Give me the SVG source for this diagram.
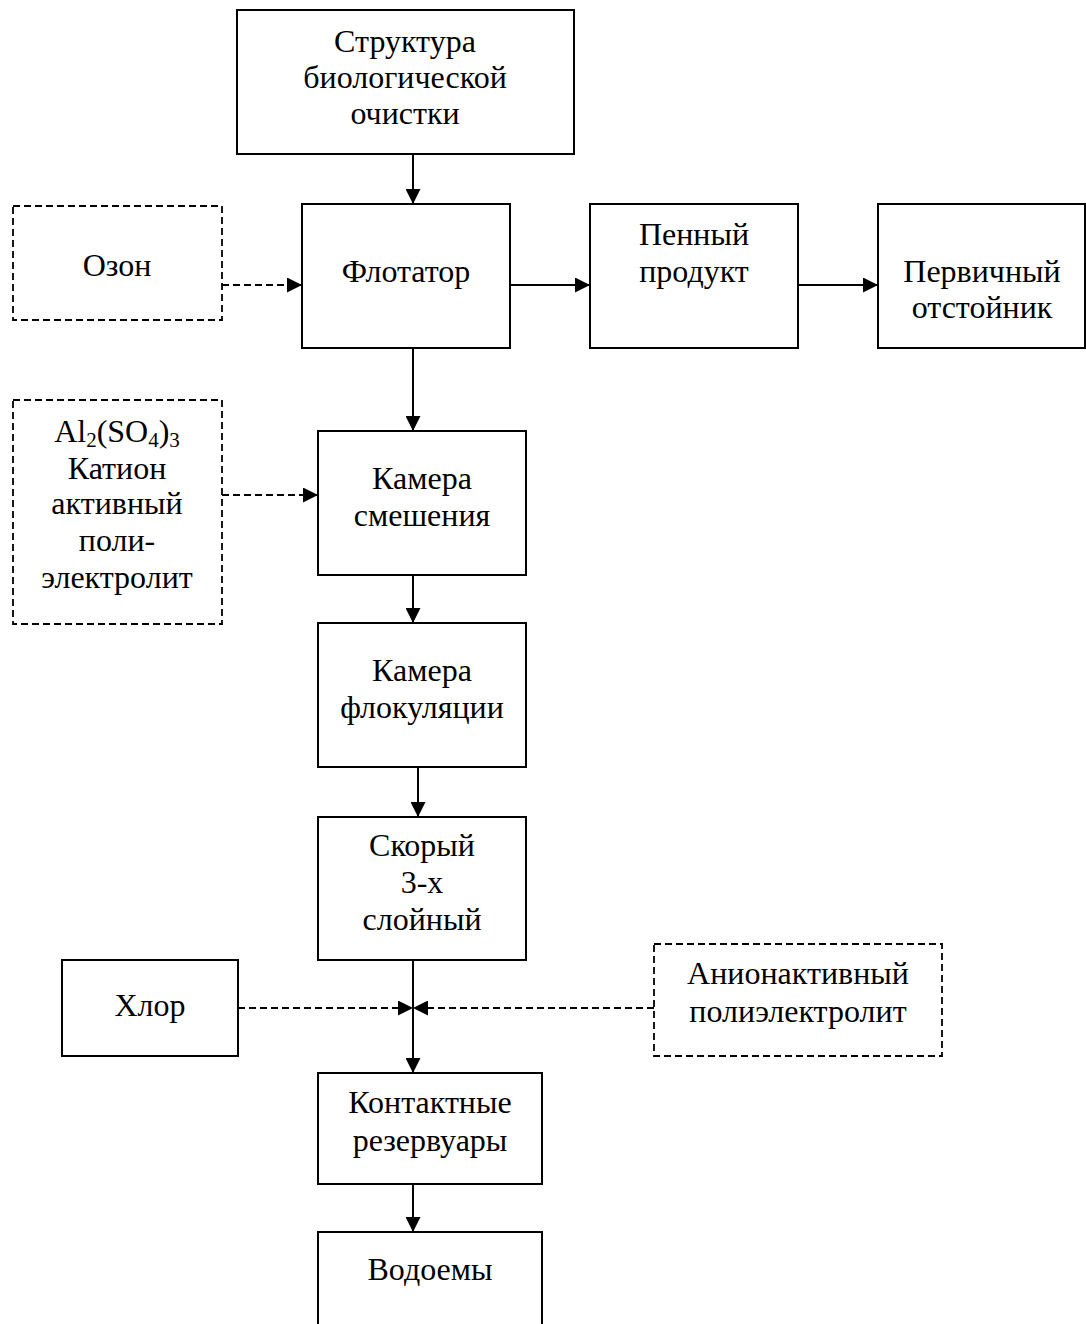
<svg xmlns="http://www.w3.org/2000/svg" width="1086" height="1324" viewBox="0 0 1086 1324">
<style>
.b{fill:#fff;stroke:#000;stroke-width:2}
.d{fill:#fff;stroke:#000;stroke-width:1.8;stroke-dasharray:7 4}
.c{fill:none;stroke:#000;stroke-width:2}
.cd{fill:none;stroke:#000;stroke-width:1.8;stroke-dasharray:7 4}
text{font-family:"Liberation Serif","Times New Roman",serif;font-size:32px;fill:#000;text-anchor:middle}
.s{font-size:21px}
</style>
<defs>
<marker id="ah" markerUnits="userSpaceOnUse" markerWidth="15" markerHeight="15" refX="15" refY="7.5" orient="auto">
<path d="M0,0 L15,7.5 L0,15 z" fill="#000"/>
</marker>
</defs>
<rect width="1086" height="1324" fill="#fff"/>
<g id="connectors">
<line class="c" x1="413" y1="154" x2="413" y2="204" marker-end="url(#ah)"/>
<line class="cd" x1="222" y1="285" x2="302" y2="285" marker-end="url(#ah)"/>
<line class="c" x1="510" y1="285" x2="590" y2="285" marker-end="url(#ah)"/>
<line class="c" x1="798" y1="285" x2="878" y2="285" marker-end="url(#ah)"/>
<line class="c" x1="413" y1="348" x2="413" y2="431" marker-end="url(#ah)"/>
<line class="cd" x1="222" y1="495" x2="318" y2="495" marker-end="url(#ah)"/>
<line class="c" x1="413" y1="575" x2="413" y2="623" marker-end="url(#ah)"/>
<line class="c" x1="418" y1="767" x2="418" y2="817" marker-end="url(#ah)"/>
<line class="c" x1="413" y1="960" x2="413" y2="1073" marker-end="url(#ah)"/>
<line class="cd" x1="238" y1="1008" x2="413" y2="1008" marker-end="url(#ah)"/>
<line class="cd" x1="654" y1="1008" x2="413" y2="1008" marker-end="url(#ah)"/>
<line class="c" x1="413" y1="1184" x2="413" y2="1232" marker-end="url(#ah)"/>
</g>
<g id="n-struct">
<rect class="b" x="237" y="10" width="337" height="144"/>
<text x="405" y="52">Структура</text>
<text x="405" y="88">биологической</text>
<text x="405" y="124">очистки</text>
</g>
<g id="n-ozon">
<rect class="d" x="13" y="206" width="209" height="114"/>
<text x="117" y="276">Озон</text>
</g>
<g id="n-flot">
<rect class="b" x="302" y="204" width="208" height="144"/>
<text x="406" y="282">Флотатор</text>
</g>
<g id="n-pen">
<rect class="b" x="590" y="204" width="208" height="144"/>
<text x="694" y="245">Пенный</text>
<text x="694" y="282">продукт</text>
</g>
<g id="n-perv">
<rect class="b" x="878" y="204" width="207" height="144"/>
<text x="982" y="282">Первичный</text>
<text x="982" y="318">отстойник</text>
</g>
<g id="n-al">
<rect class="d" x="13" y="400" width="209" height="224"/>
<text x="117" y="442">Al<tspan class="s" dy="5">2</tspan><tspan dy="-5">(SO</tspan><tspan class="s" dy="5">4</tspan><tspan dy="-5">)</tspan><tspan class="s" dy="5">3</tspan></text>
<text x="117" y="479">Катион</text>
<text x="117" y="514">активный</text>
<text x="117" y="551">поли-</text>
<text x="117" y="588">электролит</text>
</g>
<g id="n-smesh">
<rect class="b" x="318" y="431" width="208" height="144"/>
<text x="422" y="489">Камера</text>
<text x="422" y="526">смешения</text>
</g>
<g id="n-flok">
<rect class="b" x="318" y="623" width="208" height="144"/>
<text x="422" y="681">Камера</text>
<text x="422" y="718">флокуляции</text>
</g>
<g id="n-skor">
<rect class="b" x="318" y="817" width="208" height="143"/>
<text x="422" y="856">Скорый</text>
<text x="422" y="893">3-х</text>
<text x="422" y="930">слойный</text>
</g>
<g id="n-hlor">
<rect class="b" x="62" y="960" width="176" height="96"/>
<text x="150" y="1016">Хлор</text>
</g>
<g id="n-anion">
<rect class="d" x="654" y="944" width="288" height="112"/>
<text x="798" y="984">Анионактивный</text>
<text x="798" y="1022">полиэлектролит</text>
</g>
<g id="n-kont">
<rect class="b" x="318" y="1073" width="224" height="111"/>
<text x="430" y="1113">Контактные</text>
<text x="430" y="1151">резервуары</text>
</g>
<g id="n-vod">
<rect class="b" x="318" y="1232" width="224" height="100"/>
<text x="430" y="1280">Водоемы</text>
</g>
</svg>
